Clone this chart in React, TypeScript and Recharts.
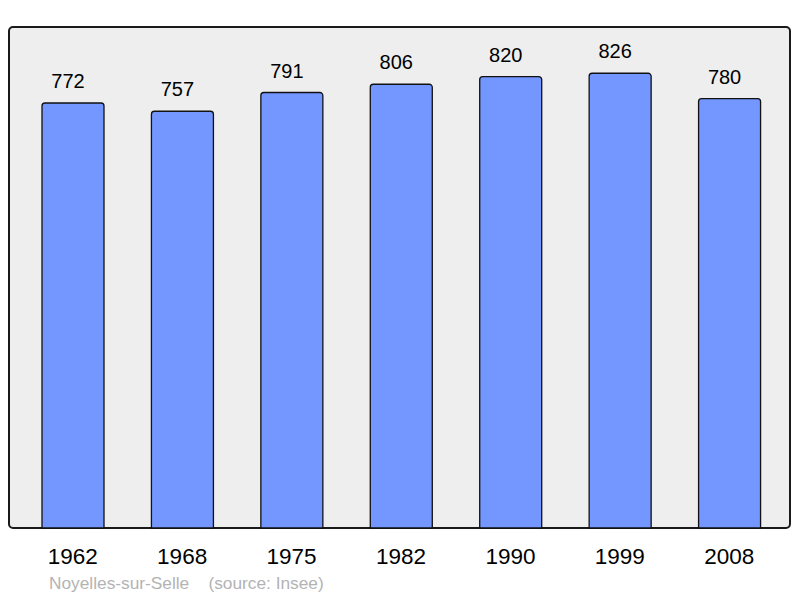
import React from 'react';
import { BarChart, Bar, XAxis, YAxis, LabelList, usePlotArea } from 'recharts';

const years = ['1962', '1968', '1975', '1982', '1990', '1999', '2008'];
const population = [772, 757, 791, 806, 820, 826, 780];
const yDomain = [0, 910];

const data = years.map((y, i) => ({ year: y, pop: population[i] }));

const FONT = '"Liberation Sans", Arial, sans-serif';

const PlotBackground = () => {
  const p = usePlotArea();
  if (!p) return null;
  return <rect x={p.x} y={p.y} width={p.width} height={p.height} rx={4} ry={4} fill="#eeeeee" stroke="none" />;
};

const PlotFrame = () => {
  const p = usePlotArea();
  if (!p) return null;
  return <rect x={p.x} y={p.y} width={p.width} height={p.height} rx={4} ry={4} fill="none" stroke="#1a1a1a" strokeWidth={2} />;
};

export default function App() {
  return (
    <div style={{ position: 'absolute', left: 0, top: 0, width: 800, height: 598, background: '#fff', fontFamily: FONT }}>
      <BarChart width={800} height={598} data={data} margin={{ top: 27, right: 10, bottom: 30, left: 9 }}>
        <PlotBackground />
        <XAxis
          dataKey="year"
          axisLine={false}
          tickLine={false}
          tickSize={6}
          tickMargin={14}
          height={40}
          padding={{ left: 9, right: 6 }}
          tick={{ fontSize: 22.5, fill: '#000', fontFamily: FONT }}
          interval={0}
        />
        <YAxis hide domain={yDomain} />
        <Bar dataKey="pop" fill="#7396ff" stroke="#111" strokeWidth={1.3} barSize={62} radius={[3, 3, 0, 0]} isAnimationActive={false}>
          <LabelList dataKey="pop" position="top" offset={15} dx={-5} style={{ fontSize: 20, fill: '#000', fontFamily: FONT }} />
        </Bar>
        <PlotFrame />
      </BarChart>
      <div style={{ position: 'absolute', left: 49, top: 573, fontSize: 17.3, color: '#b3b3b3', fontFamily: FONT, whiteSpace: 'pre', lineHeight: '20px' }}>
        {'Noyelles-sur-Selle    (source: Insee)'}
      </div>
    </div>
  );
}
